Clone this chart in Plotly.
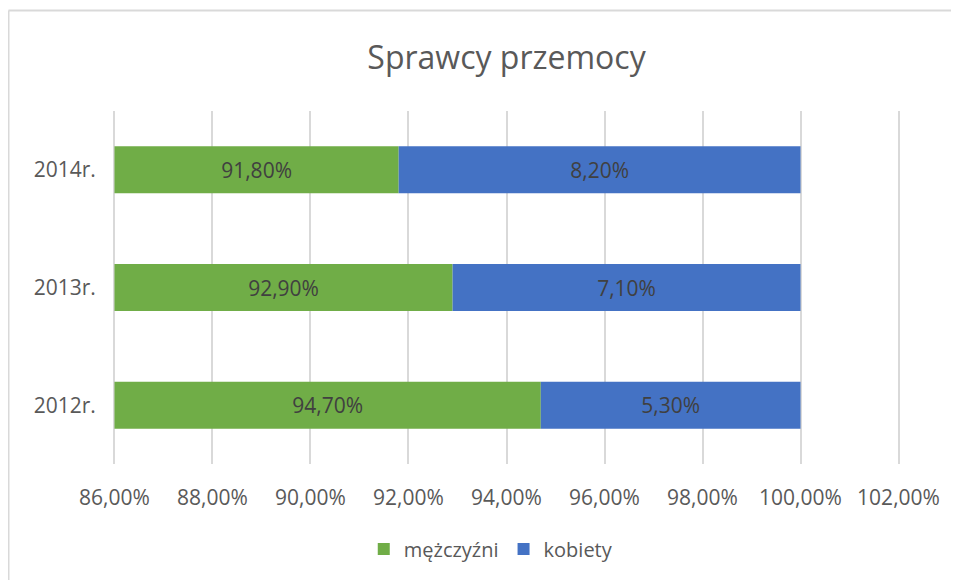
import plotly.graph_objects as go

# dane
lata = ["2012r.", "2013r.", "2014r."]
mezczyzni = [94.7, 92.9, 91.8]
kobiety = [5.3, 7.1, 8.2]
ticki = [86, 88, 90, 92, 94, 96, 98, 100, 102]

x_min = ticki[0]


def fmt(v):
    return f"{v:.2f}%".replace(".", ",")


fig = go.Figure()
# słupek mężczyzn zaczyna się od początku osi (jak w Excelu)
fig.add_trace(go.Bar(
    y=lata, x=[m - x_min for m in mezczyzni], base=x_min, name="mężczyźni", orientation="h",
    marker=dict(color="#70AD47", line=dict(width=0)),
    text=[fmt(m) for m in mezczyzni], textposition="inside", insidetextanchor="middle",
    textfont=dict(color="#404040", size=21), textangle=0,
))
fig.add_trace(go.Bar(
    y=lata, x=kobiety, base=mezczyzni, name="kobiety", orientation="h",
    marker=dict(color="#4472C4", line=dict(width=0)),
    text=[fmt(k) for k in kobiety], textposition="inside", insidetextanchor="middle",
    textfont=dict(color="#404040", size=21), textangle=0,
))

fig.update_layout(
    autosize=False,
    width=951,
    height=572,
    barmode="overlay",
    bargap=0.6,
    separators=", ",
    plot_bgcolor="white",
    paper_bgcolor="white",
    font=dict(family="Open Sans", color="#595959", size=20),
    title=dict(text="Sprawcy przemocy", x=0.5, xref="paper", y=0.9126, yanchor="middle",
               font=dict(size=32, color="#595959")),
    margin=dict(l=105, r=59, t=103, b=116),
    legend=dict(orientation="h", x=0.48, xanchor="center", y=-0.241, yanchor="middle",
                font=dict(size=20, color="#595959"), itemwidth=30, traceorder="normal"),
    uniformtext=dict(minsize=10, mode="show"),
)
fig.update_xaxes(range=[85.97, 102.03], tickvals=ticki, ticktext=[f"{t},00%" for t in ticki],
                 showgrid=True, gridcolor="#D9D9D9", gridwidth=2, zeroline=False,
                 showline=False, ticks="outside", ticklen=15, tickcolor="rgba(0,0,0,0)",
                 tickfont=dict(size=21, color="#595959"))
fig.update_yaxes(showgrid=False, showline=False, ticks="outside", ticklen=12,
                 tickcolor="rgba(0,0,0,0)", tickfont=dict(size=21, color="#595959"))

# ramka wykresu (lewa i górna krawędź)
fig.add_shape(type="line", xref="paper", yref="paper", x0=-0.1328, x1=1.1, y0=1.285, y1=1.285,
              line=dict(color="#D9D9D9", width=2))
fig.add_shape(type="line", xref="paper", yref="paper", x0=-0.1328, x1=-0.1328, y0=1.285, y1=-0.35,
              line=dict(color="#D9D9D9", width=2))

fig.write_html("out.html")
